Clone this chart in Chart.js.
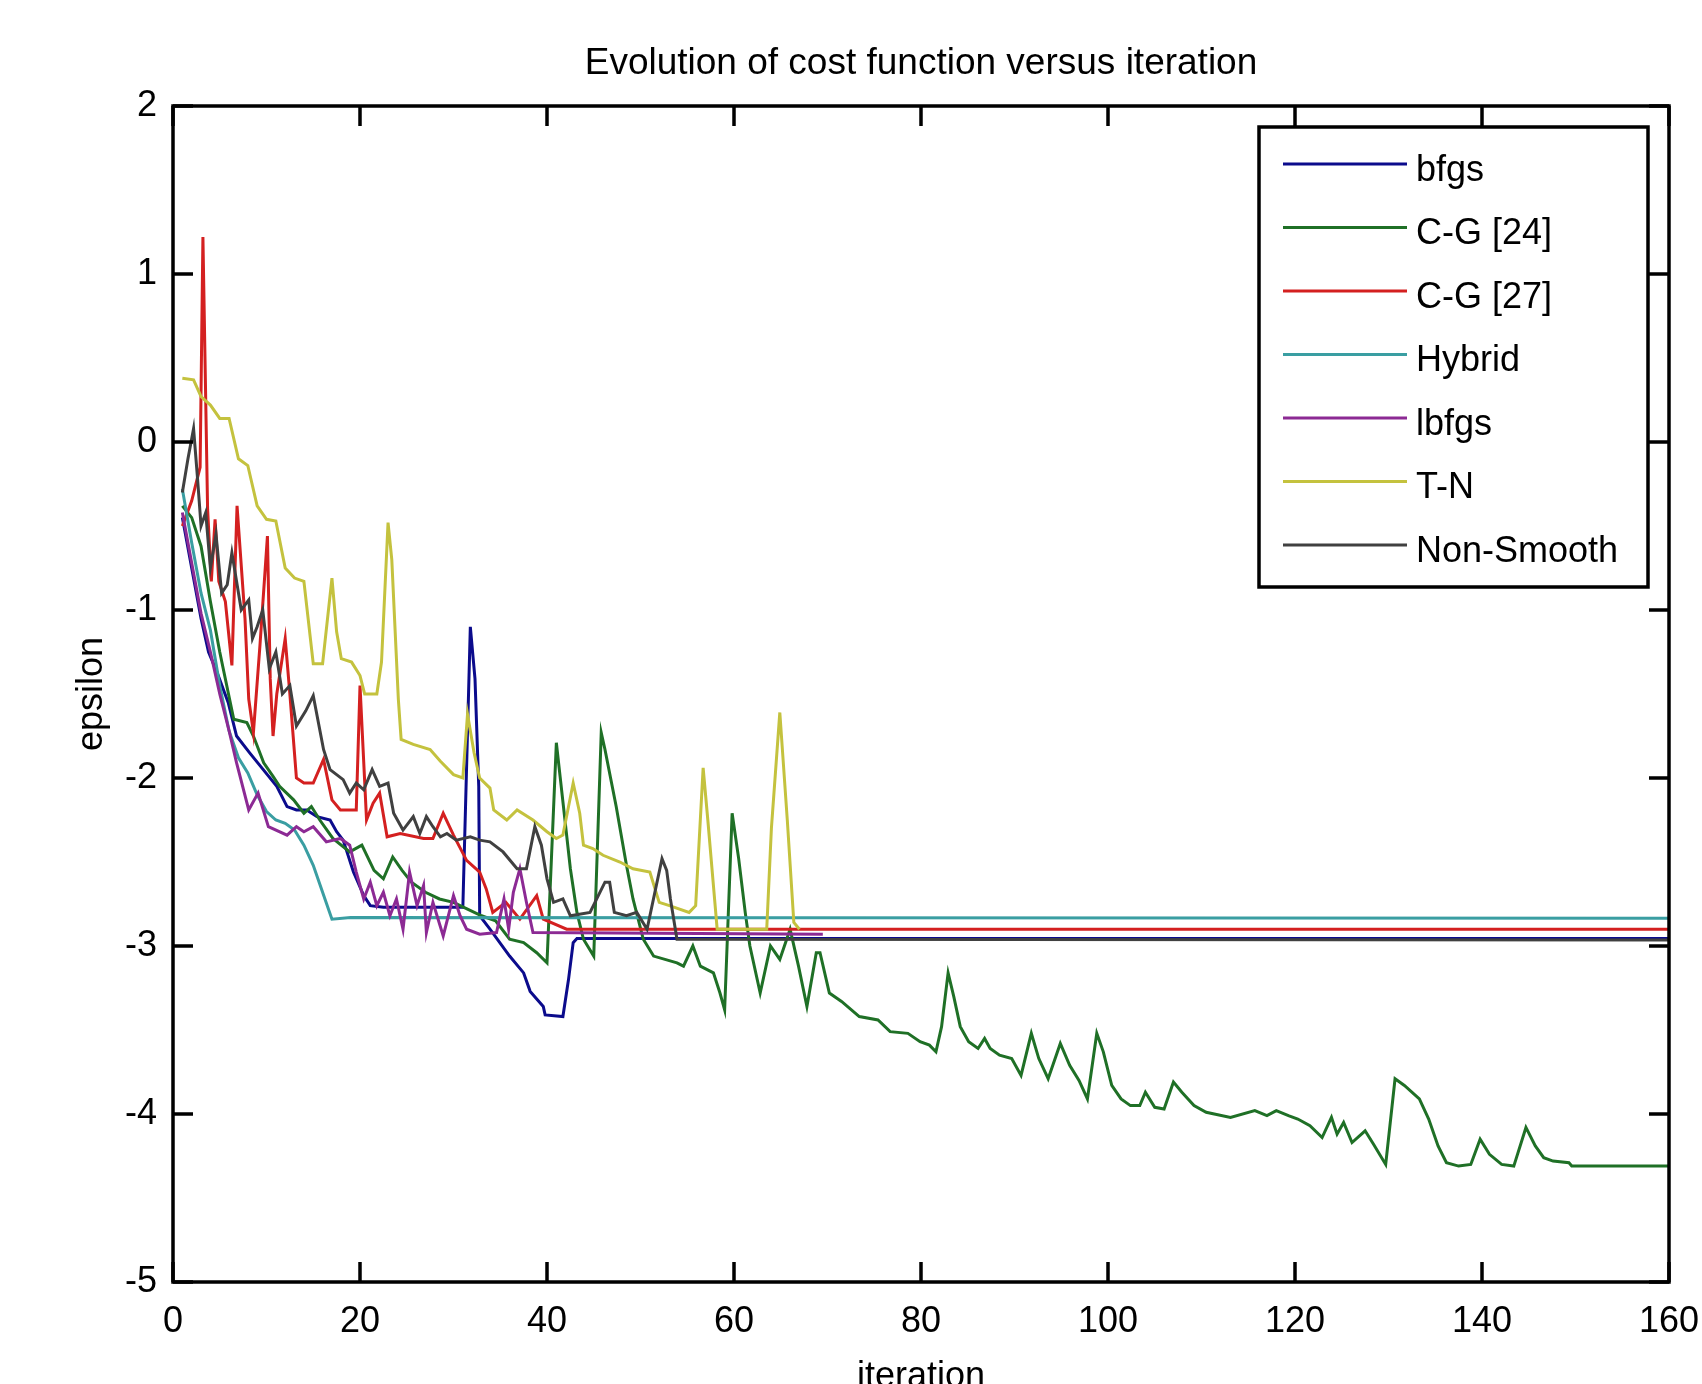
<!DOCTYPE html>
<html>
<head>
<meta charset="utf-8">
<script src="https://cdn.jsdelivr.net/npm/chart.js@4/dist/chart.umd.min.js"></script>
<style>
html,body{margin:0;padding:0;background:#fff;}
#wrap{width:1702px;height:1384px;}
</style>
</head>
<body>
<div id="wrap"><canvas id="c" width="1702" height="1384"></canvas></div>
<script>
// ---- data (iteration, epsilon) ----
const seriesNames = ['bfgs', 'C-G [24]', 'C-G [27]', 'Hybrid', 'lbfgs', 'T-N', 'Non-Smooth'];
const seriesColors = ['#0b0b8c', '#1f7026', '#d42020', '#3a9ea2', '#8c2a94', '#c4c23e', '#404040'];

const xTicks = [0, 20, 40, 60, 80, 100, 120, 140, 160];
const yTicks = [-5, -4, -3, -2, -1, 0, 1, 2];

const bfgs = [[1,-0.45],[2,-0.75],[3,-1.05],[3.8,-1.25],[4.7,-1.37],[5.9,-1.55],[6.8,-1.75],[8.2,-1.85],[9.5,-1.94],[11.1,-2.05],[12.2,-2.17],[13.2,-2.19],[14.3,-2.19],[15.4,-2.23],[16.8,-2.25],[17.5,-2.32],[18.2,-2.37],[19.3,-2.56],[20.4,-2.70],[21.1,-2.76],[22.5,-2.77],[31,-2.77],[31.8,-1.10],[32.3,-1.41],[32.7,-2.05],[32.8,-2.82],[33.9,-2.90],[36,-3.06],[37.5,-3.16],[38.2,-3.27],[39.6,-3.36],[39.8,-3.41],[41.7,-3.42],[42.3,-3.20],[42.8,-2.98],[43.2,-2.955],[160,-2.955]];

const cg24 = [[1,-0.38],[2,-0.45],[3,-0.62],[4,-0.95],[5,-1.25],[6.5,-1.65],[7.9,-1.67],[8.6,-1.75],[9.7,-1.91],[10.7,-1.99],[11.4,-2.05],[12.9,-2.13],[14,-2.21],[14.8,-2.17],[15.7,-2.25],[17.1,-2.36],[18.9,-2.44],[20.2,-2.40],[21.5,-2.55],[22.5,-2.60],[23.5,-2.47],[24.5,-2.55],[25.5,-2.62],[27,-2.68],[28.5,-2.72],[30,-2.74],[31.5,-2.78],[33,-2.82],[34.5,-2.85],[36,-2.96],[37.5,-2.98],[38.9,-3.04],[40,-3.10],[41,-1.79],[41.4,-1.99],[42.5,-2.54],[43.2,-2.80],[43.9,-2.96],[45,-3.06],[45.8,-1.73],[46.2,-1.83],[47.4,-2.17],[48.5,-2.52],[49.2,-2.72],[50.3,-2.96],[51.4,-3.06],[53.9,-3.10],[54.6,-3.12],[55.6,-3.00],[56.4,-3.12],[57.8,-3.16],[58.5,-3.28],[59,-3.38],[59.8,-2.21],[60.5,-2.48],[61.2,-2.80],[61.7,-3.00],[62.8,-3.28],[63.9,-3.00],[64.9,-3.08],[66,-2.90],[66.9,-3.12],[67.8,-3.36],[68.8,-3.04],[69.2,-3.04],[70.2,-3.28],[71.5,-3.33],[73.4,-3.42],[75.4,-3.44],[76.7,-3.51],[78.6,-3.52],[79.9,-3.57],[80.9,-3.59],[81.6,-3.63],[82.2,-3.48],[82.9,-3.16],[83.5,-3.30],[84.2,-3.48],[85.1,-3.57],[86.1,-3.61],[86.8,-3.55],[87.4,-3.61],[88.4,-3.65],[89.7,-3.67],[90.7,-3.77],[91.8,-3.52],[92.6,-3.67],[93.6,-3.79],[94.9,-3.58],[95.9,-3.71],[96.9,-3.80],[97.8,-3.91],[98.8,-3.52],[99.5,-3.63],[100.4,-3.83],[101.4,-3.91],[102.4,-3.95],[103.4,-3.95],[104,-3.87],[105,-3.96],[106,-3.97],[107,-3.81],[107.9,-3.87],[109.2,-3.95],[110.5,-3.99],[113.1,-4.02],[115.7,-3.98],[117,-4.01],[118,-3.98],[119.3,-4.01],[120.3,-4.03],[121.6,-4.07],[122.9,-4.14],[123.9,-4.02],[124.5,-4.12],[125.2,-4.05],[126.1,-4.17],[127.5,-4.10],[128.4,-4.18],[129.7,-4.30],[130.7,-3.79],[131.7,-3.83],[133.3,-3.91],[134.3,-4.03],[135.3,-4.19],[136.2,-4.29],[137.5,-4.31],[138.8,-4.30],[139.8,-4.15],[140.8,-4.24],[142.1,-4.30],[143.4,-4.31],[144.7,-4.08],[145.7,-4.19],[146.6,-4.26],[147.6,-4.28],[149.3,-4.29],[149.6,-4.31],[160,-4.31]];

const cg27 = [[1,-0.50],[2,-0.35],[2.9,-0.15],[3.2,1.22],[3.7,-0.40],[4.1,-0.83],[4.5,-0.46],[4.9,-0.83],[5.6,-0.95],[6.3,-1.33],[6.85,-0.38],[7.7,-1.05],[8.1,-1.53],[8.6,-1.73],[9.3,-1.21],[10.1,-0.56],[10.4,-1.41],[10.7,-1.75],[11.1,-1.50],[12,-1.17],[12.5,-1.50],[13.2,-2.00],[14,-2.03],[15,-2.03],[16.1,-1.89],[17,-2.13],[17.9,-2.19],[19.6,-2.19],[20,-1.45],[20.7,-2.25],[21.4,-2.15],[22.1,-2.09],[22.9,-2.35],[24.3,-2.33],[26.8,-2.36],[27.8,-2.36],[28.9,-2.21],[30,-2.34],[31.4,-2.49],[32.8,-2.56],[33.5,-2.66],[34.2,-2.80],[35.6,-2.74],[37.1,-2.84],[38.9,-2.70],[39.6,-2.84],[42.1,-2.90],[160,-2.90]];

const hybrid = [[1,-0.28],[2,-0.60],[3,-0.90],[4,-1.12],[5,-1.45],[6,-1.72],[7,-1.88],[8,-1.97],[9,-2.10],[10,-2.20],[11,-2.25],[12,-2.27],[13,-2.31],[14,-2.40],[15,-2.52],[16,-2.68],[17,-2.84],[19,-2.83],[160,-2.835]];

const lbfgs = [[1,-0.42],[2,-0.72],[3,-1.02],[4,-1.25],[5,-1.50],[6,-1.72],[6.8,-1.91],[8.1,-2.19],[9.1,-2.09],[10.2,-2.29],[12.2,-2.34],[13.2,-2.29],[14,-2.32],[15,-2.29],[16.4,-2.38],[17.9,-2.36],[18.9,-2.40],[19.6,-2.56],[20.4,-2.72],[21.1,-2.62],[21.8,-2.76],[22.5,-2.68],[23.2,-2.82],[23.9,-2.72],[24.6,-2.90],[25.3,-2.56],[26.1,-2.76],[26.8,-2.64],[27.1,-2.92],[27.8,-2.74],[28.9,-2.94],[30,-2.70],[30.7,-2.82],[31.4,-2.90],[32.8,-2.93],[34.6,-2.92],[35.4,-2.72],[35.9,-2.90],[36.4,-2.68],[37.1,-2.54],[37.8,-2.74],[38.5,-2.92],[69.5,-2.93]];

const tn = [[1,0.38],[2.2,0.37],[3,0.27],[4,0.22],[5,0.14],[6,0.14],[7,-0.10],[8,-0.14],[9,-0.38],[10,-0.46],[11,-0.47],[12,-0.75],[13,-0.81],[14,-0.83],[15,-1.32],[16,-1.32],[17,-0.81],[17.5,-1.13],[18,-1.29],[19.1,-1.31],[20,-1.39],[20.5,-1.50],[21.8,-1.50],[22.3,-1.31],[23,-0.48],[23.4,-0.70],[24.1,-1.53],[24.4,-1.77],[25.7,-1.80],[27.5,-1.83],[28.6,-1.90],[30,-1.98],[31,-2.00],[31.5,-1.62],[32.2,-1.85],[32.8,-2.00],[33.9,-2.06],[34.3,-2.19],[35.7,-2.25],[36.8,-2.19],[38.5,-2.25],[40,-2.32],[41,-2.36],[41.7,-2.34],[42.8,-2.03],[43.5,-2.21],[43.9,-2.40],[44.9,-2.42],[46,-2.46],[47.8,-2.50],[49.2,-2.54],[51,-2.56],[52,-2.74],[53.1,-2.76],[55.2,-2.80],[55.9,-2.76],[56.7,-1.94],[57.2,-2.25],[57.8,-2.64],[58.2,-2.90],[63.5,-2.90],[64,-2.30],[64.9,-1.61],[65.7,-2.25],[66.4,-2.86],[67,-2.90]];

const nonSmooth = [[1,-0.30],[1.6,-0.10],[2.2,0.08],[2.6,-0.20],[3,-0.50],[3.5,-0.42],[4,-0.75],[4.6,-0.55],[5.2,-0.90],[5.8,-0.85],[6.3,-0.66],[7.3,-1.00],[8.1,-0.94],[8.5,-1.17],[9,-1.10],[9.6,-1.00],[10.3,-1.35],[11,-1.25],[11.7,-1.50],[12.5,-1.45],[13.2,-1.69],[14.2,-1.60],[15,-1.51],[16.1,-1.83],[16.8,-1.95],[18.2,-2.01],[18.9,-2.09],[19.6,-2.03],[20.4,-2.07],[21.3,-1.95],[22.1,-2.05],[23,-2.03],[23.6,-2.21],[24.6,-2.31],[25.7,-2.23],[26.4,-2.33],[27.1,-2.23],[27.8,-2.29],[28.6,-2.35],[29.3,-2.33],[30.3,-2.37],[31.8,-2.35],[32.8,-2.37],[33.9,-2.38],[35.3,-2.44],[36.8,-2.54],[37.8,-2.54],[38.7,-2.29],[39.4,-2.40],[40,-2.60],[40.7,-2.74],[41.7,-2.72],[42.5,-2.82],[44.6,-2.80],[46.2,-2.62],[46.7,-2.62],[47.2,-2.80],[48.5,-2.82],[49.6,-2.80],[50.7,-2.90],[52.3,-2.48],[52.8,-2.55],[53.2,-2.72],[53.9,-2.96],[160,-2.965]];

const seriesData = [bfgs, cg24, cg27, hybrid, lbfgs, tn, nonSmooth];

const FONT = 'Liberation Sans, Arial, Helvetica, sans-serif';

const datasets = seriesData.map((pts, i) => ({
  label: seriesNames[i],
  data: pts.map(p => ({x: p[0], y: p[1]})),
  borderColor: seriesColors[i],
  backgroundColor: seriesColors[i],
  borderWidth: 3,
  pointRadius: 0,
  tension: 0,
  fill: false,
  order: seriesData.length - i
}));

const frameAndLegend = {
  id: 'frameAndLegend',
  afterDraw(chart) {
    const ctx = chart.ctx;
    const a = chart.chartArea;
    const xs = chart.scales.x, ys = chart.scales.y;
    ctx.save();
    ctx.strokeStyle = '#000';
    ctx.lineWidth = 3.5;
    ctx.strokeRect(a.left, a.top, a.right - a.left, a.bottom - a.top);
    const tl = 20;
    ctx.beginPath();
    xTicks.forEach(v => {
      const px = xs.getPixelForValue(v);
      ctx.moveTo(px, a.bottom); ctx.lineTo(px, a.bottom - tl);
      ctx.moveTo(px, a.top); ctx.lineTo(px, a.top + tl);
    });
    yTicks.forEach(v => {
      const py = ys.getPixelForValue(v);
      ctx.moveTo(a.left, py); ctx.lineTo(a.left + tl, py);
      ctx.moveTo(a.right, py); ctx.lineTo(a.right - tl, py);
    });
    ctx.stroke();

    // legend box (top-right inside the axes)
    const bw = 389, bh = 460;
    const bx = a.right - 21 - bw, by = a.top + 21;
    ctx.fillStyle = '#fff';
    ctx.fillRect(bx, by, bw, bh);
    ctx.lineWidth = 3.5;
    ctx.strokeStyle = '#000';
    ctx.strokeRect(bx, by, bw, bh);
    ctx.font = '36px ' + FONT;
    ctx.textBaseline = 'middle';
    ctx.textAlign = 'left';
    chart.data.datasets.forEach((ds, i) => {
      const ry = by + 37 + i * 63.5;
      ctx.strokeStyle = ds.borderColor;
      ctx.lineWidth = 3;
      ctx.beginPath();
      ctx.moveTo(bx + 24, ry); ctx.lineTo(bx + 148, ry);
      ctx.stroke();
      ctx.fillStyle = '#000';
      ctx.fillText(ds.label, bx + 157, ry + 7);
    });
    ctx.restore();
  }
};

new Chart(document.getElementById('c'), {
  type: 'line',
  data: { datasets },
  plugins: [frameAndLegend],
  options: {
    responsive: false,
    animation: false,
    devicePixelRatio: 1,
    layout: { padding: { left: 0, right: 33, top: 0, bottom: 0 } },
    plugins: {
      legend: { display: false },
      tooltip: { enabled: false },
      title: {
        display: true,
        text: 'Evolution of cost function versus iteration',
        fullSize: false,
        color: '#000',
        font: { family: FONT, size: 37, weight: 'normal', lineHeight: 1.2 },
        padding: { top: 41.3, bottom: 20.3 }
      }
    },
    scales: {
      x: {
        type: 'linear', min: 0, max: 160,
        afterBuildTicks(s) { s.ticks = xTicks.map(v => ({value: v})); },
        ticks: { color: '#000', font: { family: FONT, size: 36 }, padding: 18.4, maxRotation: 0, autoSkip: false },
        grid: { display: false, drawTicks: false },
        border: { display: false },
        title: { display: true, text: 'iteration', color: '#000', font: { family: FONT, size: 36, lineHeight: 0.4 }, padding: 0 },
        afterFit(s) { s.height = 102; s.paddingLeft = 0; s.paddingRight = 0; }
      },
      y: {
        type: 'linear', min: -5, max: 2,
        afterBuildTicks(s) { s.ticks = yTicks.map(v => ({value: v})); },
        ticks: { color: '#000', font: { family: FONT, size: 36 }, padding: 16, autoSkip: false },
        grid: { display: false, drawTicks: false },
        border: { display: false },
        title: { display: true, text: 'epsilon', color: '#000', font: { family: FONT, size: 36, lineHeight: 1.2 }, padding: { top: 70.4, bottom: 0 } },
        afterFit(s) { s.width = 173; s.paddingTop = 0; s.paddingBottom = 0; }
      }
    }
  }
});
</script>
</body>
</html>
